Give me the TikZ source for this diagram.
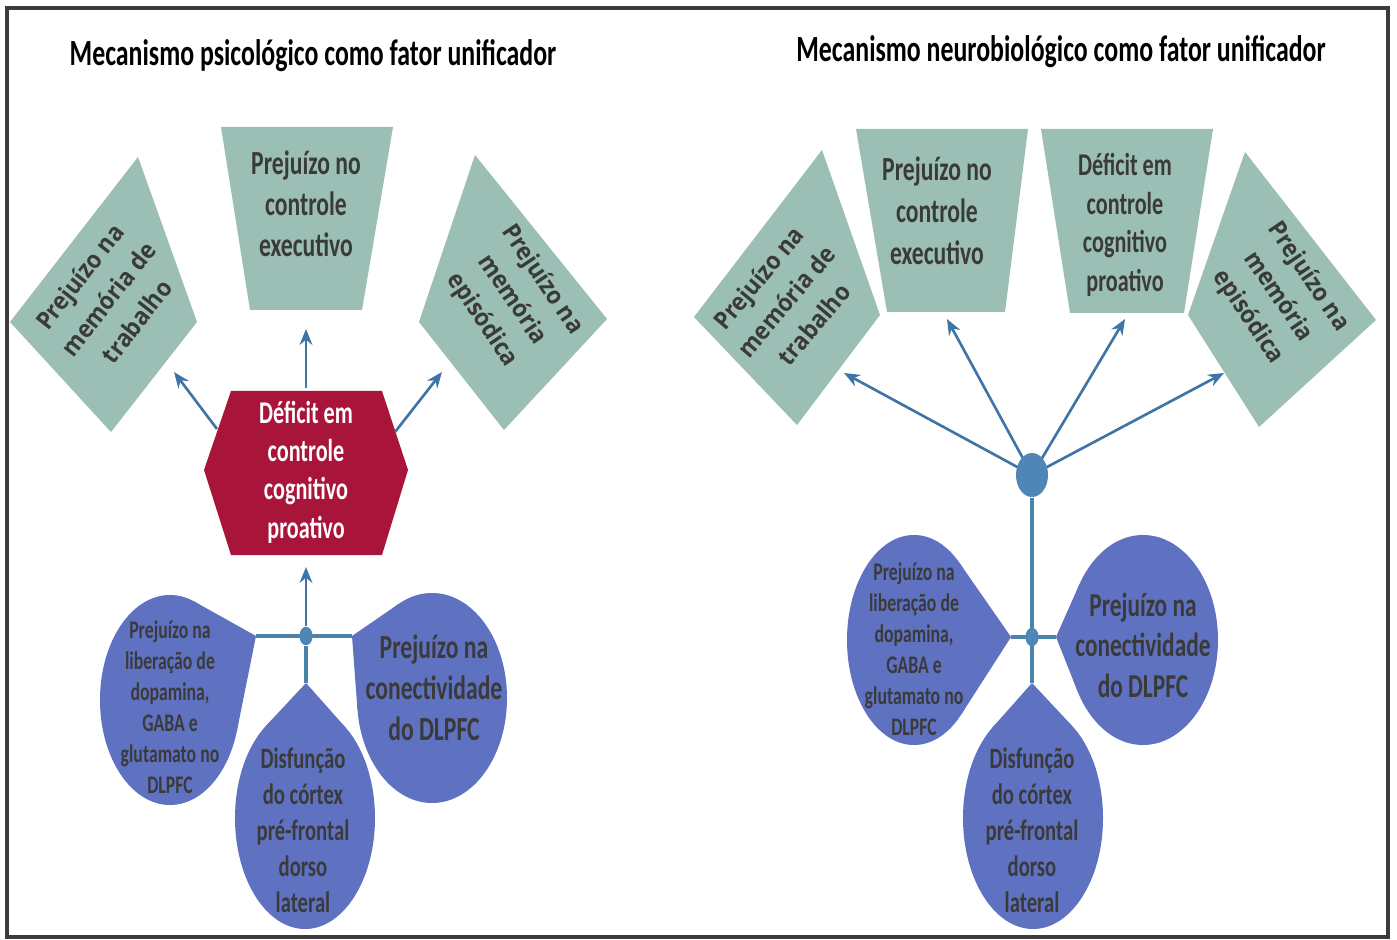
\documentclass[tikz,border=0pt]{standalone}
\usepackage{fontspec}
\setmainfont{Carlito}
\newfontfamily\cond[FakeStretch=0.70]{Carlito}
\newfontfamily\diafont[FakeStretch=0.92]{Open Sans}
\usetikzlibrary{arrows.meta,shapes.geometric}
\definecolor{tealc}{HTML}{9BBEB5}
\definecolor{dropc}{HTML}{5F71C1}
\definecolor{redc}{HTML}{A9143A}
\definecolor{txtc}{HTML}{3A3A3A}
\definecolor{arrc}{HTML}{3F74A6}
\definecolor{hubc}{HTML}{4F86B8}
\definecolor{linec}{HTML}{4A84AA}
\definecolor{framec}{HTML}{3C3C3C}
\newcommand{\fsz}[2]{\fontsize{#1}{#2}\selectfont}
% #1 cx, #2 cy, #3 rx, #4 ry, #5 tip x, #6 tip y  (pixel units)
\newcommand{\mydrop}[6]{%
  \pgfmathsetmacro\tdU{(#5-#1)/#3}%
  \pgfmathsetmacro\tdV{(#6-#2)/#4}%
  \pgfmathsetmacro\tdD{sqrt(\tdU*\tdU+\tdV*\tdV)}%
  \pgfmathsetmacro\tdT{atan2(\tdV,\tdU)}%
  \pgfmathsetmacro\tdA{acos(1/\tdD)}%
  \pgfmathsetmacro\tdRx{#3*0.01}%
  \pgfmathsetmacro\tdRy{#4*0.01}%
  \fill[dropc] (#1,#2) ellipse [x radius=\tdRx cm, y radius=\tdRy cm];
  \fill[dropc] (#5,#6) -- ({#1+#3*cos(\tdT+\tdA)},{#2+#4*sin(\tdT+\tdA)}) -- (#1,#2)
     -- ({#1+#3*cos(\tdT-\tdA)},{#2+#4*sin(\tdT-\tdA)}) -- cycle;
}
\begin{document}
\begin{tikzpicture}[x=0.01cm,y=-0.01cm,
  ttl/.style={font=\cond\bfseries\fsz{10.5}{12}, text=black, inner sep=0pt},
  boxtxt/.style={text=txtc, align=center, inner sep=0pt},
  diatxt/.style={text=txtc, align=center, inner sep=0pt, font=\diafont\bfseries\fsz{7}{10.3}},
  arr/.style={draw=arrc, line width=0.75pt, -{Stealth[length=4.5pt,width=3.6pt]}},
  jline/.style={draw=linec, line width=0.9pt},
  dot/.style={ellipse, fill=hubc, inner sep=0pt, minimum width=0.13cm, minimum height=0.18cm},
  hubst/.style={ellipse, fill=hubc, inner sep=0pt, minimum width=0.32cm, minimum height=0.44cm}]
\useasboundingbox (0,0) rectangle (1397,940);
\fill[white] (0,0) rectangle (1397,940);
\draw[framec, line width=1.1pt] (7,8) rectangle (1388,937);

% ---------------- Titles
\node[ttl] (title1) at (313,56) {Mecanismo psicológico como fator unificador};
\node[ttl] (title2) at (1061,52) {Mecanismo neurobiológico como fator unificador};

% ================= LEFT PANEL
\fill[tealc] (138,157) -- (197,322) -- (111,432) -- (10,322) -- cycle;
\fill[tealc] (221,127) -- (393,127) -- (362,310) -- (250,310) -- cycle;
\fill[tealc] (475,155) -- (607,319) -- (504,430) -- (419,322) -- cycle;
\fill[redc] (231,391) -- (382,391) -- (408,470) -- (382,555) -- (231,555) -- (204,470) -- cycle;

\node[diatxt, rotate=52] (lwm) at (108,299) {Prejuízo na\\memória de\\trabalho};
\node[boxtxt, font=\cond\bfseries\fsz{9.6}{11.7}] (lexe) at (306,204) {Prejuízo no\\controle\\executivo};
\node[diatxt, rotate=-56] (lepi) at (512,300) {Prejuízo na\\memória\\episódica};
\node[boxtxt, text=white, font=\cond\bfseries\fsz{9}{10.9}] (lhex) at (306,472) {Déficit em\\controle\\cognitivo\\proativo};

\coordinate (lhN) at (306,388);
\coordinate (laN) at (306,329);
\coordinate (lhW) at (217,429);
\coordinate (laW) at (174,372);
\coordinate (lhE) at (395,432);
\coordinate (laE) at (442,372);
\draw[arr] (lhN) -- (laN);
\draw[arr] (lhW) -- (laW);
\draw[arr] (lhE) -- (laE);

% drops
\mydrop{170}{700}{70}{105}{256}{636}
\mydrop{305}{818}{70}{111}{306}{683}
\mydrop{432}{698}{75}{105}{352}{636}
\coordinate (ltL) at (256,636);
\coordinate (ltR) at (352,636);
\coordinate (ltB) at (306,683);
\coordinate (laB) at (306,567);
\node[dot] (jL) at (306,636) {};
\draw[jline] (ltL) -- (ltR);
\draw[jline] (jL) -- (ltB);
\draw[arr] (jL) -- (laB);
\node[dot] at (jL) {};

\node[boxtxt, font=\cond\bfseries\fsz{7.2}{8.8}] (lrel) at (170,707) {Prejuízo na\\liberação de\\dopamina,\\GABA e\\glutamato no\\DLPFC};
\node[boxtxt, font=\cond\bfseries\fsz{8.4}{10.2}] (ldis) at (303,830) {Disfunção\\do córtex\\pré-frontal\\dorso\\lateral};
\node[boxtxt, font=\cond\bfseries\fsz{9.6}{11.7}] (lcon) at (434,688) {Prejuízo na\\conectividade\\do DLPFC};

% ================= RIGHT PANEL
\fill[tealc] (822,150) -- (880,315) -- (797,425) -- (694,317) -- cycle;
\fill[tealc] (856,129) -- (1028,129) -- (1005,312) -- (887,312) -- cycle;
\fill[tealc] (1041,129) -- (1213,129) -- (1184,313) -- (1070,313) -- cycle;
\fill[tealc] (1245,152) -- (1376,320) -- (1259,427) -- (1188,315) -- cycle;

\node[diatxt, rotate=50] (rwm) at (786,301) {Prejuízo na\\memória de\\trabalho};
\node[boxtxt, font=\cond\bfseries\fsz{9.6}{11.9}] (rexe) at (937,211) {Prejuízo no\\controle\\executivo};
\node[boxtxt, font=\cond\bfseries\fsz{9}{11}] (rdef) at (1125,225) {Déficit em\\controle\\cognitivo\\proativo};
\node[diatxt, rotate=-56] (repi) at (1278,297) {Prejuízo na\\memória\\episódica};

\coordinate (hubc) at (1032,475);
\coordinate (ra1) at (844,373);
\coordinate (ra2) at (947,319);
\coordinate (ra3) at (1125,319);
\coordinate (ra4) at (1224,373);
\draw[arr] (hubc) -- (ra1);
\draw[arr] (hubc) -- (ra2);
\draw[arr] (hubc) -- (ra3);
\draw[arr] (hubc) -- (ra4);

\mydrop{914}{640}{67}{105}{1011}{637}
\mydrop{1033}{818}{70}{111}{1032}{683}
\mydrop{1143}{640}{75}{105}{1056}{637}
\coordinate (rtL) at (1011,637);
\coordinate (rtR) at (1056,637);
\coordinate (rtB) at (1032,683);
\node[hubst] (hub) at (hubc) {};
\node[dot] (jR) at (1032,637) {};
\draw[jline] (rtL) -- (rtR);
\draw[jline] (hub) -- (rtB);
\node[dot] at (jR) {};

\node[boxtxt, font=\cond\bfseries\fsz{7.2}{8.8}] (rrel) at (914,649) {Prejuízo na\\liberação de\\dopamina,\\GABA e\\glutamato no\\DLPFC};
\node[boxtxt, font=\cond\bfseries\fsz{8.4}{10.2}] (rdis) at (1032,830) {Disfunção\\do córtex\\pré-frontal\\dorso\\lateral};
\node[boxtxt, font=\cond\bfseries\fsz{9.5}{11.5}] (rcon) at (1143,645) {Prejuízo na\\conectividade\\do DLPFC};
\end{tikzpicture}
\end{document}
